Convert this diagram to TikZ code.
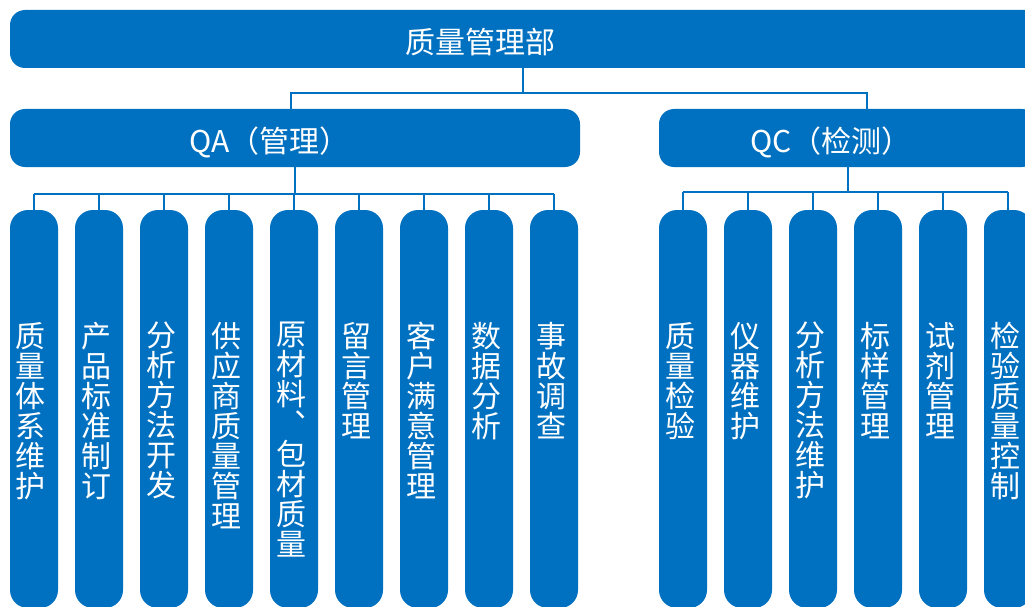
\documentclass[tikz,border=0pt]{standalone}
\usepackage{fontspec}
\newfontfamily\cjk{Noto Sans CJK SC}
\usetikzlibrary{positioning}
\definecolor{qblue}{HTML}{0070C0}

\begin{document}
\begin{tikzpicture}[x=1pt, y=-1pt, % 画像と同じ向き（yは下向き）
  bar/.style={fill=qblue, rounded corners=15pt, minimum height=58pt, inner sep=0pt},
  col/.style={fill=qblue, rounded corners=18pt, minimum width=48pt, minimum height=398pt, inner sep=0pt},
  bartext/.style={text=white, anchor=west, inner sep=0pt, font=\cjk\fontsize{30}{30}\selectfont},
  coltext/.style={text=white, align=center, inner sep=0pt, xshift=-3pt, font=\cjk\fontsize{30}{30}\selectfont},
  conn/.style={draw=qblue, line width=1.1pt}]
  \useasboundingbox (0,0) rectangle (1025,607); % 図の大きさ
  \clip (0,0) rectangle (1025,607);

  % 上の段
  \node[bar, minimum width=1030pt] (top) at (525,39) {};
  \node[bartext] (toptext) at (405,42) {质量管理部};
  \node[bar, minimum width=570pt] (qa) at (295,138) {};
  \node[bartext] (qatext) at (189,142) {QA（管理）};
  \node[bar, minimum width=378pt] (qc) at (848,138) {};
  \node[bartext] (qctext) at (750,142) {QC（检测）};

  % QAの列
  \foreach \t [count=\i] in {{质\\量\\体\\系\\维\\护}, {产\\品\\标\\准\\制\\订}, {分\\析\\方\\法\\开\\发},
      {供\\应\\商\\质\\量\\管\\理}, {原\\材\\料\\︑\\包\\材\\质\\量}, {留\\言\\管\\理},
      {客\\户\\满\\意\\管\\理}, {数\\据\\分\\析}, {事\\故\\调\\查}} {
    \node[col] (qa\i) at ({34+65*(\i-1)},409) {};
    \node[coltext, below=112pt of qa\i.north] (qat\i) {\t};
  }
  % QCの列
  \foreach \t [count=\i] in {{质\\量\\检\\验}, {仪\\器\\维\\护}, {分\\析\\方\\法\\维\\护},
      {标\\样\\管\\理}, {试\\剂\\管\\理}, {检\\验\\质\\量\\控\\制}} {
    \node[col] (qc\i) at ({683+65*(\i-1)},409) {};
    \node[coltext, below=112pt of qc\i.north] (qct\i) {\t};
  }

  % 接続線
  \coordinate (topj) at (523,93);
  \coordinate (qaj) at (295,194);
  \coordinate (qcj) at (848,192);
  \coordinate (qain) at (291,93);
  \coordinate (qcin) at (867,93);
  \draw[conn] (top.south -| topj) -- (topj);
  \draw[conn] (qa.north -| qain) -- (qain) -- (qcin) -- (qc.north -| qcin);
  \draw[conn] (qa.south -| qaj) -- (qaj);
  \draw[conn] (qaj -| qa1.north) -- (qaj -| qa9.north);
  \foreach \i in {1,...,9} \draw[conn] (qaj -| qa\i.north) -- (qa\i.north);
  \draw[conn] (qc.south -| qcj) -- (qcj);
  \draw[conn] (qcj -| qc1.north) -- (qcj -| qc6.north);
  \foreach \i in {1,...,6} \draw[conn] (qcj -| qc\i.north) -- (qc\i.north);
\end{tikzpicture}
\end{document}
